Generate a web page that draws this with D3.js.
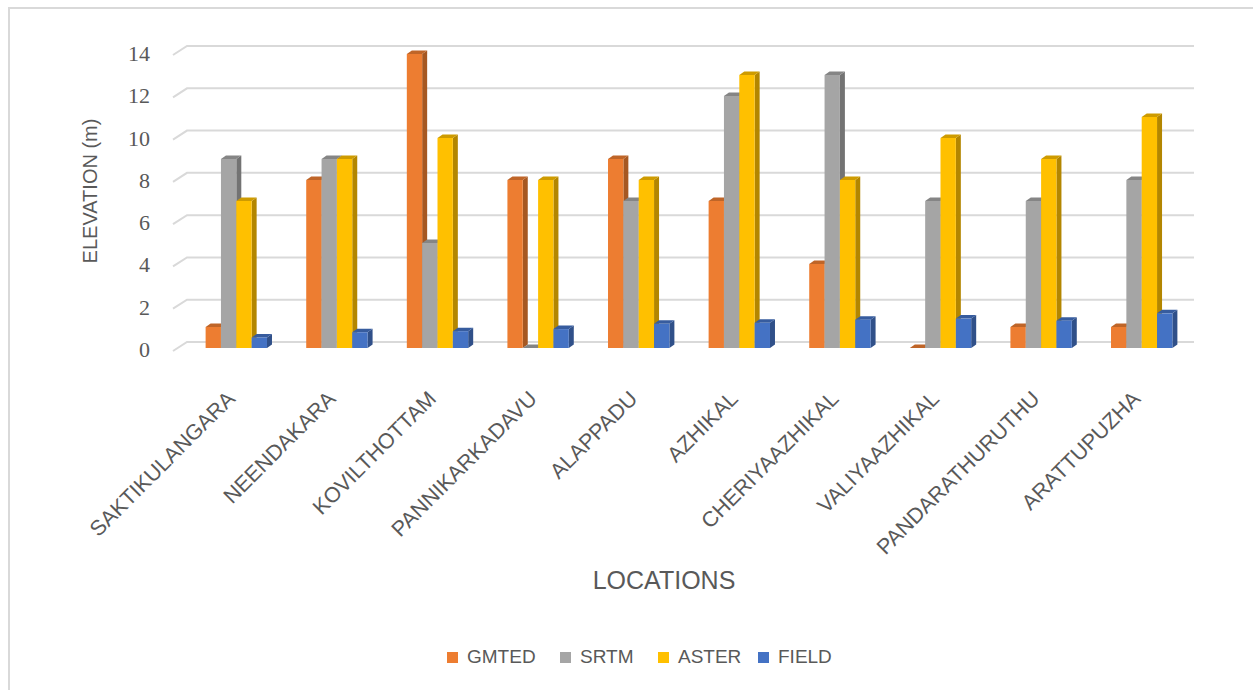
<!DOCTYPE html>
<html>
<head>
<meta charset="utf-8">
<script src="https://cdn.jsdelivr.net/npm/d3@7"></script>
<style>
  body { margin: 0; background: #fff; }
  text { fill: #595959; }
</style>
</head>
<body>
<svg id="chart" width="1253" height="690"></svg>
<script>
var categories = ["SAKTIKULANGARA", "NEENDAKARA", "KOVILTHOTTAM", "PANNIKARKADAVU", "ALAPPADU",
    "AZHIKAL", "CHERIYAAZHIKAL", "VALIYAAZHIKAL", "PANDARATHURUTHU", "ARATTUPUZHA"];
var seriesNames = ["GMTED", "SRTM", "ASTER", "FIELD"];
var gmted = [1, 8, 14, 8, 9, 7, 4, 0, 1, 1];
var srtm = [9, 9, 5, 0, 7, 12, 13, 7, 7, 8];
var aster = [7, 9, 10, 8, 8, 13, 8, 10, 9, 11];
var field = [0.5, 0.75, 0.8, 0.9, 1.15, 1.2, 1.35, 1.4, 1.3, 1.65];
var yTicks = [0, 2, 4, 6, 8, 10, 12, 14];
var colors = ["#ED7D31", "#A5A5A5", "#FFC000", "#4472C4"];

var values = [gmted, srtm, aster, field];
var svg = d3.select("#chart");

// chart area border
svg.append("rect")
    .attr("x", 9).attr("y", 8).attr("width", 1300).attr("height", 700)
    .attr("fill", "none").attr("stroke", "#d9d9d9").attr("stroke-width", 2);

var depthX = 5, depthY = 3.5;   // bar depth offset
var wallX = 14, wallY = 9;      // floor depth for the gridlines

var x = d3.scaleBand().domain(categories).range([186, 1192]).paddingInner(0.39).paddingOuter(0.195);
var xs = d3.scaleBand().domain(seriesNames).range([0, x.bandwidth()]);
var y = d3.scaleLinear().domain([0, 14]).range([348, 54]);
var yBack = d3.scaleLinear().domain([0, 14]).range([342, 46]);

// gridlines on the back wall, with the short floor diagonal at the left
var grid = svg.append("g");
yTicks.forEach(function(t) {
    grid.append("path")
        .attr("d", "M" + (187 - wallX) + "," + (yBack(t) + wallY) + " L187," + yBack(t) + " L1194," + yBack(t))
        .attr("fill", "none").attr("stroke", "#d9d9d9").attr("stroke-width", 2);
});

// y tick labels
svg.append("g").selectAll("text")
    .data(yTicks)
    .enter()
    .append("text")
    .attr("x", 150)
    .attr("y", function(d) { return yBack(d) + 10; })
    .attr("text-anchor", "end")
    .attr("dominant-baseline", "middle")
    .style("font-family", "'Liberation Serif', serif")
    .style("font-size", "22px")
    .text(function(d) { return d; });

// y axis title
svg.append("text")
    .attr("transform", "translate(97,191) rotate(-90)")
    .attr("text-anchor", "middle")
    .style("font-family", "'Liberation Sans', sans-serif")
    .style("font-size", "20px")
    .text("ELEVATION (m)");

// bars
var bars = svg.append("g");
categories.forEach(function(c, i) {
    seriesNames.forEach(function(s, j) {
        var v = values[j][i];
        var x0 = x(c) + xs(s), w = xs.bandwidth();
        var yt = y(v), yb = y(0);
        var col = d3.color(colors[j]);
        // right side face
        bars.append("path")
            .attr("d", "M" + (x0 + w) + "," + yt + " L" + (x0 + w + depthX) + "," + (yt - depthY) +
                " L" + (x0 + w + depthX) + "," + (yb - depthY) + " L" + (x0 + w) + "," + yb + "Z")
            .attr("fill", col.darker(1.0));
        // top face
        bars.append("path")
            .attr("d", "M" + x0 + "," + yt + " L" + (x0 + depthX) + "," + (yt - depthY) +
                " L" + (x0 + w + depthX) + "," + (yt - depthY) + " L" + (x0 + w) + "," + yt + "Z")
            .attr("fill", col.darker(0.6));
        // front face
        bars.append("rect")
            .attr("x", x0).attr("y", yt)
            .attr("width", w).attr("height", yb - yt)
            .attr("fill", colors[j]);
    });
});

// category labels
svg.append("g").selectAll("text")
    .data(categories)
    .enter()
    .append("text")
    .attr("transform", function(d) {
        return "translate(" + (x(d) + x.bandwidth() / 2 - 4) + ",396) rotate(-45)";
    })
    .attr("text-anchor", "end")
    .attr("dominant-baseline", "middle")
    .style("font-family", "'Liberation Sans', sans-serif")
    .style("font-size", "21.5px")
    .text(function(d) { return d; });

// x axis title
svg.append("text")
    .attr("x", 664).attr("y", 589)
    .attr("text-anchor", "middle")
    .style("font-family", "'Liberation Sans', sans-serif")
    .style("font-size", "25px")
    .text("LOCATIONS");

// legend
var legendX = [447, 560, 658, 758];
var legend = svg.append("g").selectAll("g")
    .data(seriesNames)
    .enter()
    .append("g")
    .attr("transform", function(d, i) { return "translate(" + legendX[i] + ",652)"; });
legend.append("rect")
    .attr("width", 11).attr("height", 11)
    .attr("fill", function(d, i) { return colors[i]; });
legend.append("text")
    .attr("x", 20).attr("y", 11)
    .style("font-family", "'Liberation Sans', sans-serif")
    .style("font-size", "19px")
    .text(function(d) { return d; });
</script>
</body>
</html>
